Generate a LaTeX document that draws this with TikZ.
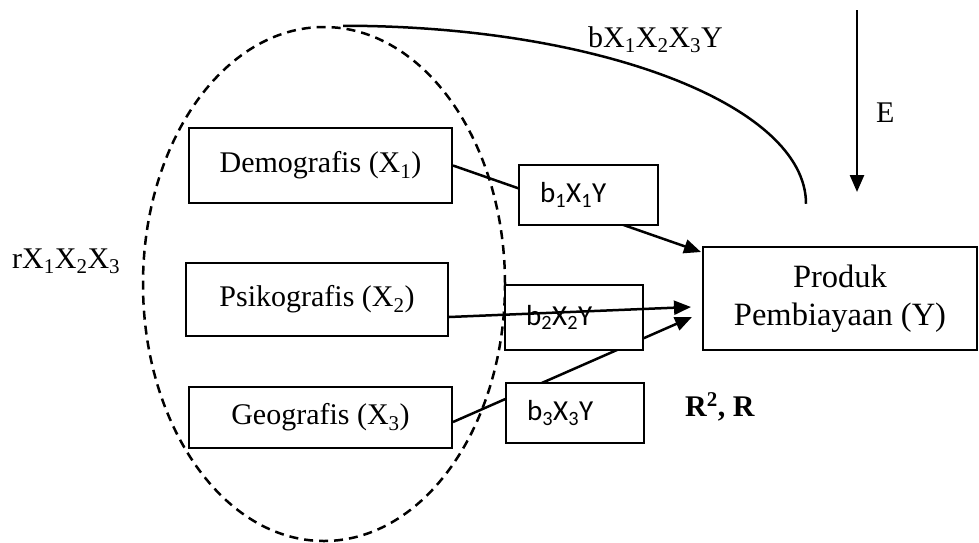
\documentclass[tikz,border=0pt]{standalone}
\usepackage{fontspec}
\setmainfont{Liberation Serif}
\newfontfamily\calib{Carlito}
\usetikzlibrary{arrows.meta,shapes.geometric,calc,backgrounds}
\begin{document}
\begin{tikzpicture}[x=1pt,y=-1pt,
  box/.style={draw,line width=2pt,fill=white,inner sep=0pt,font=\fontsize{30}{36}\selectfont},
  bbox/.style={draw,line width=2pt,fill=white,inner sep=0pt},
  btext/.style={anchor=west,inner sep=0pt,font=\calib\fontsize{29}{33}\selectfont},
  link/.style={line width=2.5pt},
  arr/.style={line width=2.5pt,-{Triangle[length=17pt,width=14pt]}},
  lbl/.style={inner sep=0pt,font=\fontsize{30}{36}\selectfont},
  grpstyle/.style={ellipse,draw,line width=2.5pt,dash pattern=on 9pt off 6pt,inner sep=0pt}]
\useasboundingbox (0,0) rectangle (979,542);

% group ellipse
\node[grpstyle,minimum width=362pt,minimum height=514pt] (grp) at (324,284) {};

% boxes
\node[box,minimum width=263pt,minimum height=75pt] (demo) at (320.5,165.5) {Demografis (X\textsubscript{1})};
\node[box,minimum width=262pt,minimum height=73pt] (psi) at (317,299.5) {Psikografis (X\textsubscript{2})};
\node[box,minimum width=263pt,minimum height=61pt] (geo) at (320.5,417.5) {Geografis (X\textsubscript{3})};
\node[box,minimum width=274pt,minimum height=103pt,align=center,font=\fontsize{32.5}{38}\selectfont] (prod) at (840,298.5) {Produk\\Pembiayaan (Y)};

\node[bbox,minimum width=139pt,minimum height=60pt] (b1) at (588.5,195) {};
\node[bbox,minimum width=138pt,minimum height=65pt] (b2) at (574,317.5) {};
\node[bbox,minimum width=138pt,minimum height=60pt] (b3) at (575,413) {};
\node[btext] (t1) at ($(b1.west)+(22,0)$) {b\textsubscript{1}X\textsubscript{1}Y};
\node[btext] (t2) at ($(b2.west)+(22,0)$) {b\textsubscript{2}X\textsubscript{2}Y};
\node[btext] (t3) at ($(b3.west)+(22,0)$) {b\textsubscript{3}X\textsubscript{3}Y};

% connectors passing behind the coefficient boxes
\begin{pgfonlayer}{background}
\draw[arr] (demo.east) -- ($(prod.north west)+(-1,6)$);
\draw[arr] ($(geo.east)+(0,4.5)$) -- ($(prod.west)+(-10,18.5)$);
\end{pgfonlayer}

% connector drawn over b2
\draw[arr] ($(psi.east)+(0,17.5)$) -- ($(prod.west)+(-11,8.5)$);

% joint effect curve
\coordinate (cstart) at ($(grp.north)+(19,0)$);
\draw[link] (cstart) arc[start angle=-90,end angle=0,x radius=463,y radius=178];

% E arrow
\coordinate (etop) at (857,10);
\coordinate (ebot) at (857,192);
\draw[arr] (etop) -- (ebot);

% labels
\node[lbl,anchor=base west] (elab) at (876,122) {E};
\node[lbl,anchor=base west] (blab) at (588,47) {bX\textsubscript{1}X\textsubscript{2}X\textsubscript{3}Y};
\node[lbl,anchor=base west] (rlab) at (12,268) {rX\textsubscript{1}X\textsubscript{2}X\textsubscript{3}};
\node[lbl,anchor=base west] (rsq) at (685,416) {\textbf{R\textsuperscript{2}, R}};
\end{tikzpicture}
\end{document}
